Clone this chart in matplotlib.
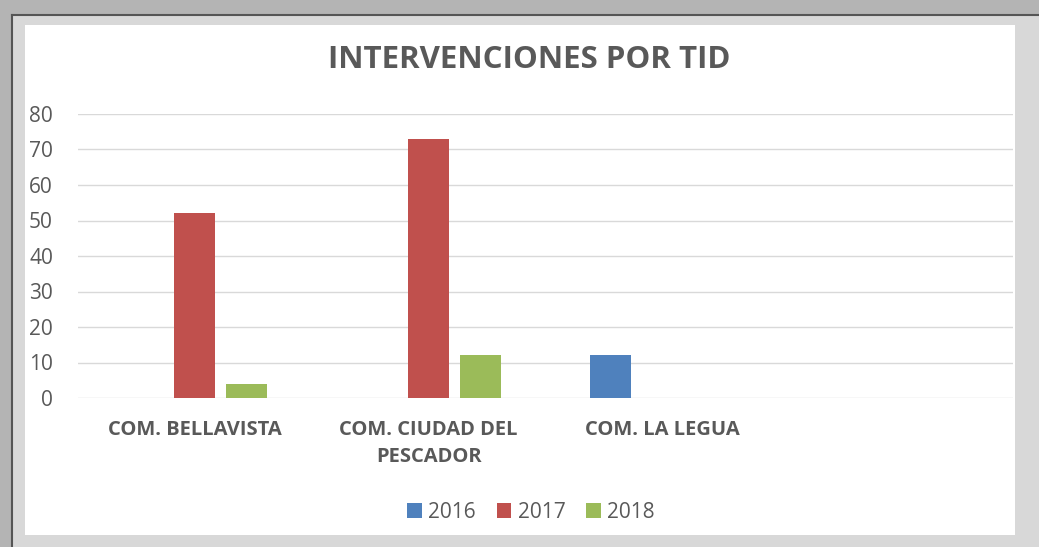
import matplotlib.pyplot as plt
import numpy as np
from matplotlib.patches import Rectangle

categories = ['COM. BELLAVISTA', 'COM. CIUDAD DEL\nPESCADOR', 'COM. LA LEGUA', '']
years = ['2016', '2017', '2018']
v2016 = [0, 0, 12, 0]
v2017 = [52, 73, 0, 0]
v2018 = [4, 12, 0, 0]
colors = ['#4f81bd', '#c0504d', '#9bbb59']

plt.rcParams['font.family'] = ['Open Sans', 'DejaVu Sans']
txt = '#595959'

fig = plt.figure(figsize=(10.39, 5.47), dpi=100, facecolor='#b4b4b4')
# white chart area with dark frame lines, behind the axes
fig.patches.append(Rectangle((12 / 1039, 0), 1030 / 1039, 1 - 15 / 547, transform=fig.transFigure,
                             facecolor='#d8d8d8', edgecolor='none', zorder=-2))
fig.patches.append(Rectangle((25 / 1039, 12 / 547), 990 / 1039, 1 - 37 / 547, transform=fig.transFigure,
                             facecolor='white', edgecolor='none', zorder=-1))
fig.lines.append(plt.Line2D([12 / 1039, 1], [1 - 15 / 547, 1 - 15 / 547], transform=fig.transFigure,
                            color='#555555', lw=1.5, zorder=-1))
fig.lines.append(plt.Line2D([12 / 1039, 12 / 1039], [0, 1 - 15 / 547], transform=fig.transFigure,
                            color='#555555', lw=1.5, zorder=-1))

ax = fig.add_axes([78 / 1039, 1 - 398 / 547, 935 / 1039, 284 / 547])
ax.set_facecolor('none')

x = np.arange(len(categories))
w = 0.175
off = 0.222
for i, vals in enumerate([v2016, v2017, v2018]):
    ax.bar(x + (i - 1) * off, vals, w, color=colors[i], label=years[i], zorder=3)

ax.set_xlim(-0.5, len(categories) - 0.5)
ax.set_ylim(0, 80)
ax.set_yticks(range(0, 81, 10))
ax.yaxis.grid(True, color='#d9d9d9', lw=1)
ax.set_axisbelow(True)
for s in ax.spines.values():
    s.set_visible(False)
ax.tick_params(axis='both', length=0)
ax.tick_params(axis='y', labelsize=15, labelcolor=txt, pad=18)
ax.set_xticks(x)
ax.set_xticklabels(categories, fontsize=14.5, fontweight='bold', color=txt, linespacing=1.45)
ax.tick_params(axis='x', pad=16)

fig.text(529 / 1039, 1 - 60 / 547, 'INTERVENCIONES POR TID', ha='center', va='center',
         fontsize=22.5, fontweight='bold', color=txt)

ax.legend(loc='center', bbox_to_anchor=(531 / 1039, 1 - 512 / 547), bbox_transform=fig.transFigure,
          ncol=3, frameon=False, fontsize=15, labelcolor=txt, handlelength=0.7, handleheight=0.7,
          handletextpad=0.3, columnspacing=1.0)

fig.savefig('out.png', dpi=100, facecolor=fig.get_facecolor())
